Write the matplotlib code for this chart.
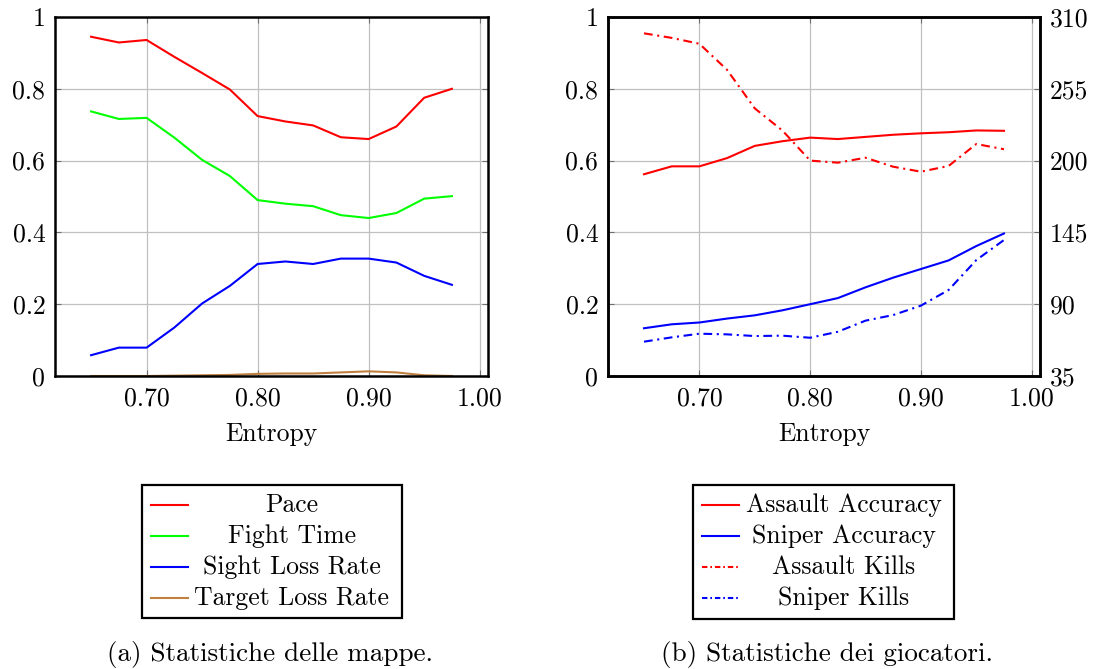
import matplotlib
matplotlib.use('Agg')
import matplotlib.pyplot as plt
from matplotlib.patches import Rectangle

plt.rcParams['font.family'] = ['cmr10', 'DejaVu Serif']
plt.rcParams['mathtext.fontset'] = 'cm'
plt.rcParams['axes.formatter.use_mathtext'] = True

# entropia delle mappe generate
entropy = [0.65, 0.675, 0.70, 0.725, 0.75, 0.775, 0.80, 0.825, 0.85, 0.875, 0.90, 0.925, 0.95, 0.975]

# statistiche delle mappe
pace = [0.945, 0.929, 0.936, 0.889, 0.844, 0.798, 0.724, 0.709, 0.698, 0.665, 0.660, 0.695, 0.775, 0.800]
fight_time = [0.737, 0.716, 0.719, 0.664, 0.602, 0.557, 0.490, 0.480, 0.473, 0.448, 0.440, 0.454, 0.494, 0.501]
sight_loss = [0.058, 0.079, 0.079, 0.135, 0.202, 0.251, 0.312, 0.319, 0.312, 0.327, 0.327, 0.316, 0.279, 0.254]
target_loss = [0.0, 0.0, 0.0, 0.001, 0.002, 0.003, 0.006, 0.007, 0.007, 0.010, 0.013, 0.010, 0.002, 0.0]

# statistiche dei giocatori
assault_acc = [0.562, 0.584, 0.584, 0.607, 0.641, 0.654, 0.664, 0.660, 0.666, 0.672, 0.676, 0.679, 0.684, 0.683]
sniper_acc = [0.133, 0.144, 0.149, 0.160, 0.169, 0.183, 0.200, 0.217, 0.247, 0.274, 0.298, 0.322, 0.362, 0.397]
assault_kills = [297.5, 294, 289.5, 269.5, 240, 223, 200, 198.4, 202.2, 195.3, 191.5, 195.9, 212.7, 208.7]
sniper_kills = [61.3, 64.6, 67.4, 66.9, 65.6, 65.9, 64.3, 68.9, 77.4, 81.7, 88.9, 100.9, 123.8, 139.2]

x_ticks = [0.70, 0.80, 0.90, 1.00]
x_labels = ['0.70', '0.80', '0.90', '1.00']
y_ticks = [0, 0.2, 0.4, 0.6, 0.8, 1.0]
y_labels = ['0', '0.2', '0.4', '0.6', '0.8', '1']
kills_ticks = [35, 90, 145, 200, 255, 310]

RED = '#ff0000'
GREEN = '#00ff00'
BLUE = '#0000ff'
BROWN = '#bf8040'
FS = 18.5
LW = 1.5
DASHDOT = (0, (4.2, 2.2, 1.0, 2.2))
DASHDOT_LEG = (0, (2.6, 1.4, 0.8, 1.4))

W, H = 1094, 669
fig = plt.figure(figsize=(W / 100, H / 100), dpi=100)


def style_axes(ax):
    span = entropy[-1] - entropy[0]
    ax.set_xlim(entropy[0] - 0.1 * span, entropy[-1] + 0.1 * span)
    ax.set_ylim(0, 1)
    ax.set_xticks(x_ticks)
    ax.set_xticklabels(x_labels)
    ax.set_yticks(y_ticks)
    ax.set_yticklabels(y_labels)
    ax.grid(True, color='#c0c0c0', linewidth=0.9)
    ax.set_axisbelow(True)
    ax.tick_params(direction='in', length=4, width=0.8, color='#707070',
                   labelsize=FS, pad=7)
    ax.tick_params(axis='x', pad=8)
    for s in ax.spines.values():
        s.set_linewidth(1.8)
    ax.set_xlabel('Entropy', fontsize=FS, labelpad=8)


# (a) mappe
ax1 = fig.add_axes([55 / W, 1 - 376 / H, 433 / W, 359 / H])
style_axes(ax1)
ax1.tick_params(top=True, right=True)
ax1.plot(entropy, pace, color=RED, lw=LW)
ax1.plot(entropy, fight_time, color=GREEN, lw=LW)
ax1.plot(entropy, sight_loss, color=BLUE, lw=LW)
ax1.plot(entropy, target_loss, color=BROWN, lw=LW)

# (b) giocatori
ax2 = fig.add_axes([608 / W, 1 - 376 / H, 432 / W, 359 / H])
style_axes(ax2)
ax2.tick_params(top=True)
ax2.plot(entropy, assault_acc, color=RED, lw=LW)
ax2.plot(entropy, sniper_acc, color=BLUE, lw=LW)

ax3 = ax2.twinx()
ax3.set_ylim(35, 310)
ax3.set_yticks(kills_ticks)
ax3.set_yticklabels([str(t) for t in kills_ticks])
ax3.tick_params(direction='in', length=4, width=0.8, color='#707070',
                labelsize=FS, pad=7)
for s in ax3.spines.values():
    s.set_linewidth(1.8)
ax3.plot(entropy, assault_kills, color=RED, lw=LW, linestyle=DASHDOT)
ax3.plot(entropy, sniper_kills, color=BLUE, lw=LW, linestyle=DASHDOT)

# legende disegnate a mano, testo centrato come in pgfplots
ov = fig.add_axes([0, 0, 1, 1])
ov.set_xlim(0, W)
ov.set_ylim(H, 0)
ov.axis('off')


def draw_legend(box, handle_x, text_x, rows):
    x0, y0, x1, y1 = box
    ov.add_patch(Rectangle((x0, y0), x1 - x0, y1 - y0, fill=False,
                           edgecolor='black', linewidth=1.6))
    for i, (label, color, ls) in enumerate(rows):
        y = y0 + 20 + i * 31
        ov.plot(handle_x, [y, y], color=color, lw=LW, linestyle=ls)
        ov.text(text_x, y, label, fontsize=FS, ha='center', va='center')


draw_legend((142, 485, 402, 618), [151, 188], 292, [
    ('Pace', RED, '-'),
    ('Fight Time', GREEN, '-'),
    ('Sight Loss Rate', BLUE, '-'),
    ('Target Loss Rate', BROWN, '-'),
])
draw_legend((693, 485, 954, 619), [702, 739], 844, [
    ('Assault Accuracy', RED, '-'),
    ('Sniper Accuracy', BLUE, '-'),
    ('Assault Kills', RED, DASHDOT_LEG),
    ('Sniper Kills', BLUE, DASHDOT_LEG),
])

ov.text(270, 654, '(a) Statistiche delle mappe.', fontsize=19.5, ha='center', va='center')
ov.text(827, 654, '(b) Statistiche dei giocatori.', fontsize=19.5, ha='center', va='center')

fig.savefig('out.png', dpi=100)
